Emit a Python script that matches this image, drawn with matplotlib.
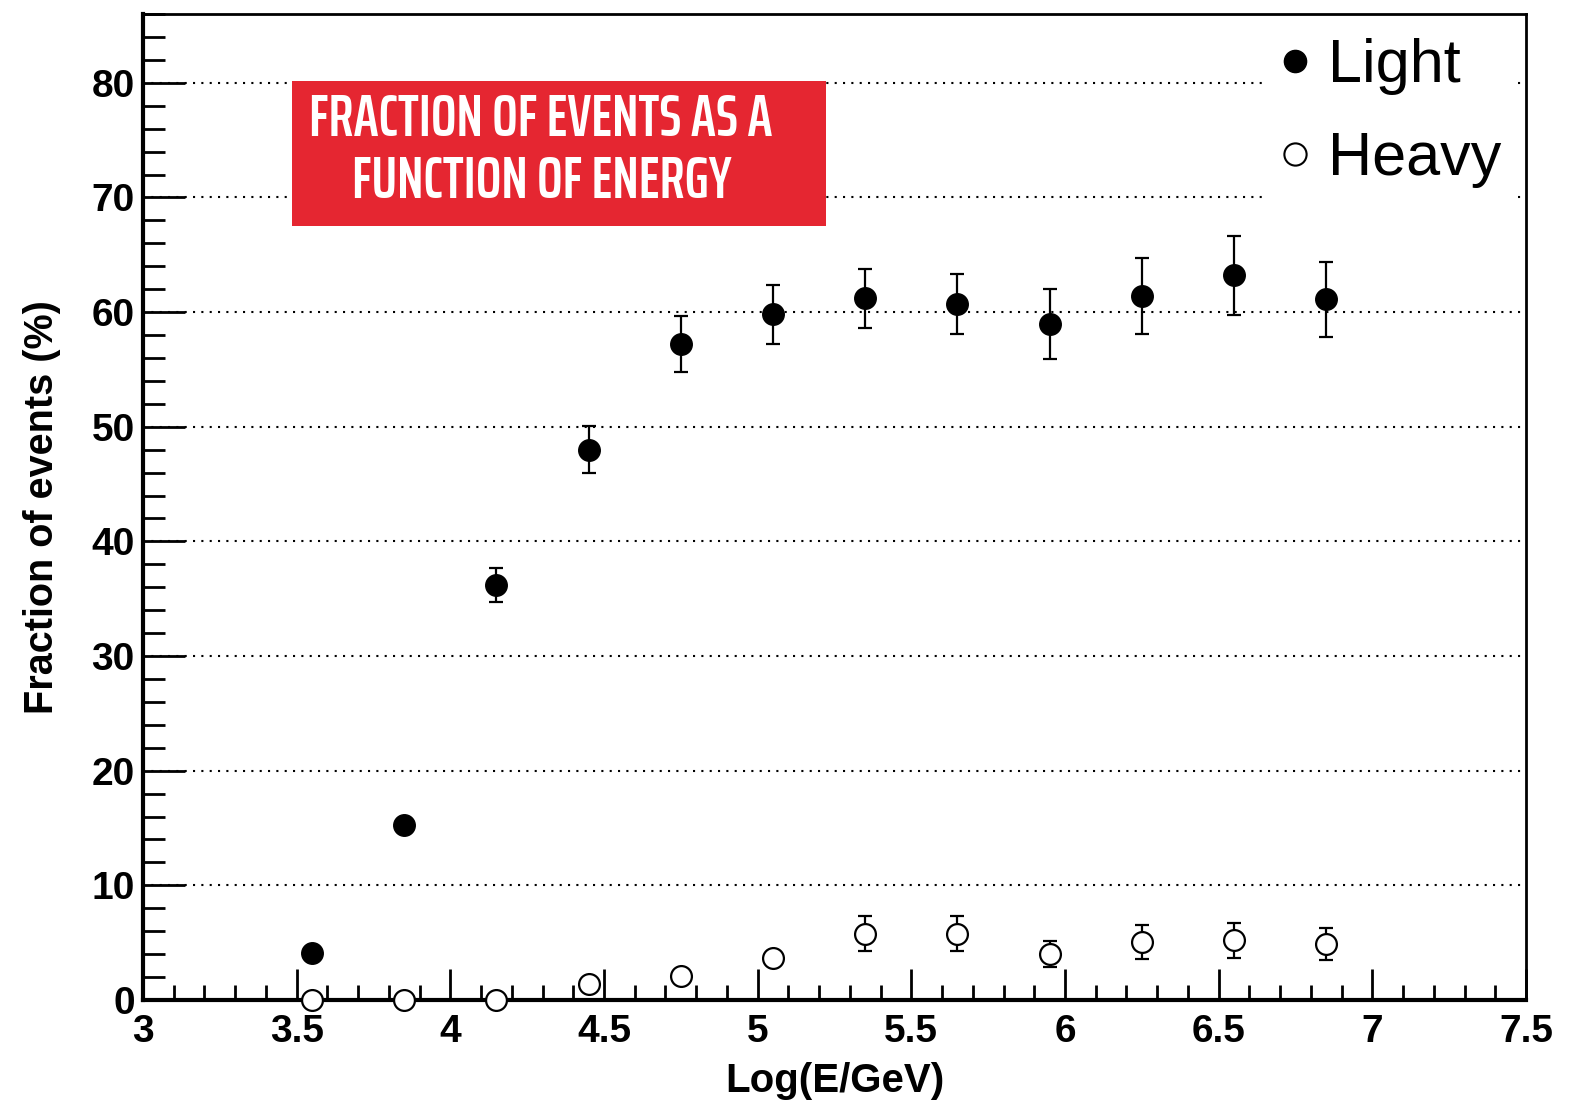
import matplotlib
matplotlib.use('Agg')
import matplotlib.pyplot as plt
from matplotlib.patches import Rectangle
from matplotlib.lines import Line2D
from matplotlib.ticker import MultipleLocator
from matplotlib import font_manager

log_e = [3.55, 3.85, 4.15, 4.45, 4.75, 5.05, 5.35, 5.65, 5.95, 6.25, 6.55, 6.85]
light = [4.1, 15.3, 36.2, 48.0, 57.2, 59.8, 61.2, 60.7, 59.0, 61.4, 63.2, 61.1]
light_err = [0.4, 0.5, 1.5, 2.05, 2.45, 2.55, 2.6, 2.6, 3.05, 3.3, 3.45, 3.3]
heavy = [0.0, 0.0, 0.0, 1.4, 2.05, 3.7, 5.8, 5.8, 4.0, 5.05, 5.2, 4.9]
heavy_err = [0.1, 0.1, 0.1, 0.4, 0.5, 0.6, 1.5, 1.5, 1.15, 1.45, 1.5, 1.4]

banner_1 = 'FRACTION OF EVENTS AS A'
banner_2 = 'FUNCTION OF ENERGY'

plt.rcParams['font.family'] = ['Liberation Sans', 'DejaVu Sans']

fig = plt.figure(figsize=(15.69, 11.01), dpi=100)
renderer = fig.canvas.get_renderer()

# pick the installed narrow face whose width at ~46pt is closest to the banner
narrow = [f for f in font_manager.fontManager.ttflist
          if f.stretch in ('condensed', 'semi-condensed', 'extra-condensed', 'ultra-condensed')
          or 'Condensed' in f.name or 'Narrow' in f.name]
best = None
for f in narrow:
    if f.style != 'normal':
        continue
    w_num = f.weight if isinstance(f.weight, (int, float)) else 400
    if w_num < 400 or w_num > 800:
        continue
    fp = font_manager.FontProperties(fname=f.fname, size=46)
    try:
        w, h, d = renderer.get_text_width_height_descent(banner_1, fp, ismath=False)
    except Exception:
        continue
    score = abs(w - 464) + abs(w_num - 600) * 0.4
    if best is None or score < best[0]:
        best = (score, f.fname)
if best:
    title_fp = font_manager.FontProperties(fname=best[1])
else:
    title_fp = font_manager.FontProperties(family='Roboto', weight='medium')

ax = fig.add_axes([143 / 1569, 1 - 1000 / 1101, 1383 / 1569, 986 / 1101])

ax.errorbar(log_e, light, yerr=light_err, fmt='o', color='black', ms=15.5,
            elinewidth=1.6, capsize=5, capthick=1.6, clip_on=False, zorder=4)
ax.errorbar(log_e, heavy, yerr=heavy_err, fmt='o', color='black', mfc='white',
            mec='black', mew=1.6, ms=15, elinewidth=1.6, capsize=5, capthick=1.6,
            clip_on=False, zorder=4)

ax.set_xlim(3, 7.5)
ax.set_ylim(0, 86)
ax.xaxis.set_minor_locator(MultipleLocator(0.1))
ax.yaxis.set_major_locator(MultipleLocator(10))
ax.yaxis.set_minor_locator(MultipleLocator(2))
ax.set_xticks([3, 3.5, 4, 4.5, 5, 5.5, 6, 6.5, 7, 7.5])
ax.set_xticklabels(['3', '3.5', '4', '4.5', '5', '5.5', '6', '6.5', '7', '7.5'])

ax.tick_params(axis='both', which='both', direction='in', top=False, right=False,
               width=2, labelsize=28)
ax.tick_params(axis='x', which='major', length=22, pad=10)
ax.tick_params(axis='x', which='minor', length=11)
ax.tick_params(axis='y', which='major', length=30, pad=6)
ax.tick_params(axis='y', which='minor', length=16)
for lab in ax.get_xticklabels() + ax.get_yticklabels():
    lab.set_fontweight('bold')

for side in ['left', 'bottom']:
    ax.spines[side].set_linewidth(3)
for side in ['top', 'right']:
    ax.spines[side].set_linewidth(2)

ax.yaxis.grid(True, which='major', color='black', linestyle=(0, (1, 3)), linewidth=1.5)
ax.set_axisbelow(True)

ax.set_xlabel('Log(E/GeV)', fontsize=29, fontweight='bold', va='center')
ax.xaxis.set_label_coords(0.5, -0.082)
ax.set_ylabel('Fraction of events (%)', fontsize=28.5, fontweight='bold', va='center')
ax.yaxis.set_label_coords(-0.073, 0.5)

handles = [Line2D([], [], ls='none', marker='o', color='black', ms=16),
           Line2D([], [], ls='none', marker='o', color='black', mfc='white', mew=1.5, ms=16)]
leg = ax.legend(handles, ['Light', 'Heavy'], loc='upper right', bbox_to_anchor=(1.0, 1.0),
                fontsize=44, frameon=True, fancybox=False, framealpha=1, edgecolor='none',
                facecolor='white', handlelength=0.5, handletextpad=0.3,
                labelspacing=0.58, borderpad=0.25, borderaxespad=0.15)

# red banner
ax.add_patch(Rectangle((292 / 1569, 1 - 226 / 1101), 534 / 1569, 145 / 1101,
                       transform=fig.transFigure, facecolor='#E52631',
                       edgecolor='none', zorder=6, clip_on=False))
t1 = fig.text(541 / 1569, 1 - 136 / 1101, banner_1, color='white',
              fontproperties=title_fp, fontsize=46, ha='center', va='baseline', zorder=7)
t2 = fig.text(542 / 1569, 1 - 198 / 1101, banner_2, color='white',
              fontproperties=title_fp, fontsize=46, ha='center', va='baseline', zorder=7)
w = t1.get_window_extent(renderer).width
size = min(46 * 464 / w, 52)
t1.set_fontsize(size)
t2.set_fontsize(size)

fig.savefig('out.png', dpi=100)
